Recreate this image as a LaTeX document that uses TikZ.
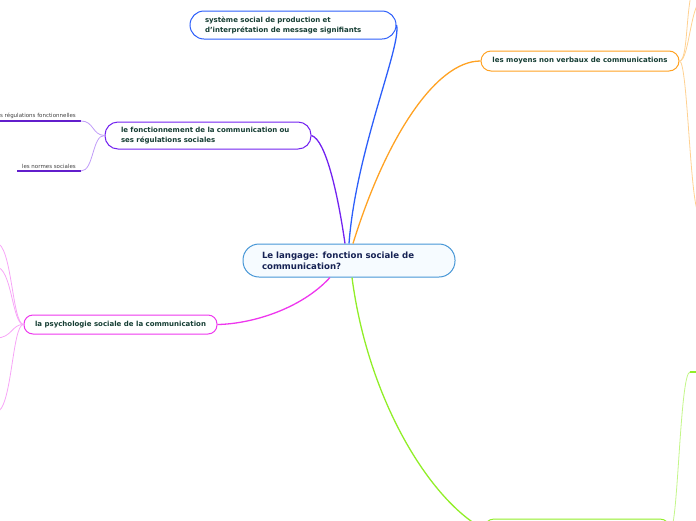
\documentclass[tikz,border=0pt]{standalone}
\usepackage{fontspec}
\setmainfont{DejaVu Sans}
\usepackage{tikz}
\usetikzlibrary{positioning}
\definecolor{rootblue}{RGB}{70,150,214}
\definecolor{rootfill}{RGB}{246,251,255}
\definecolor{sysblue}{RGB}{45,95,250}
\definecolor{moyorange}{RGB}{255,162,35}
\definecolor{fonpurple}{RGB}{115,35,240}
\definecolor{psymagenta}{RGB}{238,55,238}
\definecolor{vertgreen}{RGB}{145,238,40}
\definecolor{textgreen}{RGB}{22,62,52}
\definecolor{textnavy}{RGB}{22,34,84}

\begin{document}
\begin{tikzpicture}[x=1pt,y=-1pt,
  root/.style={rectangle,draw=rootblue,fill=rootfill,line width=1pt,
    minimum width=212pt,minimum height=33pt,rounded corners=16pt,
    text width=174pt,align=left,inner sep=0pt,text=textnavy,
    font=\fontsize{8.6}{11}\selectfont\bfseries},
  topic/.style={rectangle,fill=white,line width=1pt,inner sep=0pt,
    text=textgreen,font=\fontsize{7}{10}\selectfont\bfseries},
  leaf/.style={anchor=south east,inner xsep=5pt,inner ysep=2pt,
    text=black!75,font=\fontsize{5.5}{6.5}\selectfont},
  branch/.style={line width=1.3pt},
  twig/.style={line width=0.8pt},
  leafline/.style={line width=1.6pt},
]
  \useasboundingbox (0,0) rectangle (696,520);
  \clip (0,0) rectangle (696,520);

  \node[root] (root) at (349,260.5) {Le langage: fonction sociale de\\communication?};

  \node[topic,draw=sysblue,minimum width=206pt,minimum height=28pt,rounded corners=14pt,
    text width=176pt,align=left] (sys) at (293,25)
    {système social de production et\\d'interprétation de message signifiants};
  \node[topic,draw=moyorange,minimum width=198pt,minimum height=20pt,rounded corners=10pt]
    (moy) at (580,61) {les moyens non verbaux de communications};
  \node[topic,draw=fonpurple,minimum width=206pt,minimum height=27pt,rounded corners=13pt,
    text width=174pt,align=left] (fon) at (208,135.5)
    {le fonctionnement de la communication ou\\ses régulations sociales};
  \node[topic,draw=psymagenta,minimum width=193pt,minimum height=19pt,rounded corners=9pt]
    (psy) at (120.5,324.5) {la psychologie sociale de la communication};
  \node[topic,draw=vertgreen,minimum width=186pt,minimum height=20pt,rounded corners=10pt]
    (vert) at (577,529) {};

  \draw[branch,sysblue] (root.north) .. controls (356,150) and (402,45) .. (sys.east);
  \draw[branch,fonpurple] ([xshift=-4pt]root.north) .. controls (338,195) and (326,140) .. (fon.east);
  \draw[branch,moyorange] ([xshift=4pt]root.north) .. controls (385,140) and (435,61) .. (moy.west);
  \draw[branch,psymagenta] ([xshift=-19pt]root.south) .. controls (300,310) and (250,324) .. (psy.east);
  \draw[branch,vertgreen] ([xshift=3pt]root.south) .. controls (368,400) and (430,500) .. (vert.west);

  \node[leaf] (reg) at (81,121) {les régulations fonctionnelles};
  \node[leaf] (norm) at (81,171) {les normes sociales};
  \draw[leafline,fonpurple!85!black] (reg.south east) -- (reg.south west);
  \draw[leafline,fonpurple!85!black] (norm.south east) -- (norm.south west);
  \draw[twig,fonpurple!45] (fon.west) .. controls (92,135) and (94,121) .. (reg.south east);
  \draw[twig,fonpurple!45] (fon.west) .. controls (92,135) and (94,171) .. (norm.south east);

  \coordinate (psyA) at (-4,243);
  \coordinate (psyB) at (-4,267);
  \coordinate (psyC) at (-4,338);
  \coordinate (psyD) at (-4,412);
  \foreach \c in {psyA,psyB,psyC,psyD}
    \draw[twig,psymagenta!45] (psy.west) .. controls (12,324) and (12,{0}|-\c) .. (\c);

  \coordinate (moyA) at (700,-20);
  \coordinate (moyB) at (706,-4);
  \coordinate (moyC) at (700,215);
  \draw[twig,moyorange!50] (moy.east) .. controls (690,61) and (684,-20) .. (moyA);
  \draw[twig,moyorange!50] (moy.east) .. controls (690,61) and (690,-4) .. (moyB);
  \draw[twig,moyorange!50] (moy.east) .. controls (688,61) and (690,215) .. (moyC);

  \coordinate (vertA) at (690,372);
  \draw[twig,vertgreen!55] (vert.east) .. controls (678,529) and (680,372) .. (vertA);
  \draw[leafline,vertgreen] (vertA) -- ++(40,0);
\end{tikzpicture}
\end{document}
